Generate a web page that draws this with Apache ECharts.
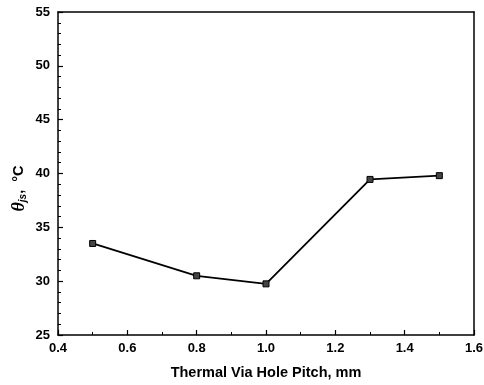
<!DOCTYPE html>
<html><head><meta charset="utf-8">
<script src="https://cdn.jsdelivr.net/npm/echarts@6/dist/echarts.min.js"></script>
<style>html,body{margin:0;padding:0;background:#fff}#c{width:484px;height:385px}</style>
</head><body><div id="c"></div>
<script>
const pitch = [0.5, 0.8, 1.0, 1.3, 1.5];
const theta = [33.5, 30.5, 29.75, 39.45, 39.8];
const xTitle = 'Thermal Via Hole Pitch, mm';
const yMin = 25, yMax = 55, yStep = 5;
const xMin = 0.4, xMax = 1.6, xStep = 0.2;

const chart = echarts.init(document.getElementById('c'));
const lab = {fontFamily:'Liberation Sans, Arial', fontWeight:'bold', fontSize:13, color:'#000'};
chart.setOption({
  animation:false,
  grid:{left:58, right:10, top:12, bottom:50, outerBoundsMode:'none'},
  xAxis:[{
    type:'value', min:xMin, max:xMax, interval:xStep,
    name:xTitle, nameLocation:'middle', nameGap:30,
    nameTextStyle:{fontFamily:'Liberation Sans, Arial', fontWeight:'bold', fontSize:14.5, color:'#000'},
    axisLine:{show:true, lineStyle:{color:'#000', width:1.5}},
    axisTick:{show:true, inside:true, length:5, lineStyle:{color:'#000', width:1.2}},
    minorTick:{show:true, splitNumber:2, length:3, lineStyle:{color:'#000'}},
    splitLine:{show:false},
    axisLabel:Object.assign({margin:7, formatter:v=>v.toFixed(1)}, lab)
  },{
    type:'value', min:xMin, max:xMax, position:'top',
    axisLine:{show:true, lineStyle:{color:'#000', width:1.5}},
    axisTick:{show:false}, axisLabel:{show:false}, splitLine:{show:false}
  }],
  yAxis:[{
    type:'value', min:yMin, max:yMax, interval:yStep,
    name:'{t|θ}{s|js}{n|,  °C}', nameLocation:'middle', nameGap:30, nameRotate:90,
    nameMoveOverlap:false,
    nameTextStyle:{padding:[0,30,0,0], rich:{
      t:{fontFamily:'Liberation Serif, Times New Roman', fontStyle:'italic', fontWeight:'bold', fontSize:18, color:'#000'},
      s:{fontFamily:'Liberation Sans', fontStyle:'italic', fontWeight:'bold', fontSize:10, color:'#000', verticalAlign:'bottom', padding:[8,0,0,0]},
      n:{fontFamily:'Liberation Sans, Arial', fontWeight:'bold', fontSize:14.5, color:'#000'}
    }},
    axisLine:{show:true, lineStyle:{color:'#000', width:1.5}},
    axisTick:{show:true, inside:true, length:5, lineStyle:{color:'#000', width:1.2}},
    minorTick:{show:true, splitNumber:5, length:3, lineStyle:{color:'#000'}},
    splitLine:{show:false},
    axisLabel:Object.assign({margin:8}, lab)
  },{
    type:'value', min:yMin, max:yMax, position:'right',
    axisLine:{show:true, lineStyle:{color:'#000', width:1.5}},
    axisTick:{show:false}, axisLabel:{show:false}, splitLine:{show:false}
  }],
  series:[{
    type:'line', data:pitch.map((x,i)=>[x, theta[i]]),
    symbol:'rect', symbolSize:6, showSymbol:true,
    lineStyle:{color:'#000', width:1.8},
    itemStyle:{color:'#444', borderColor:'#000', borderWidth:1}
  }]
});
</script></body></html>
